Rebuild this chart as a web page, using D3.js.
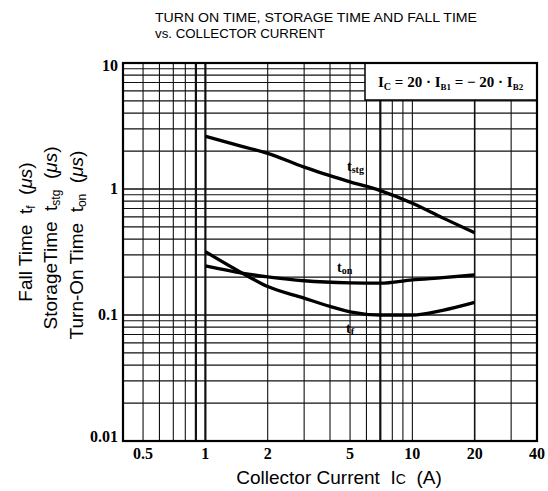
<!DOCTYPE html>
<html><head><meta charset="utf-8">
<script src="https://cdn.jsdelivr.net/npm/d3@7"></script>
<style>
html,body{margin:0;padding:0;background:#fff;}
svg{display:block;}
.tick{font-family:"Liberation Serif","DejaVu Serif",serif;font-weight:bold;font-size:16px;fill:#000;}
.lab{font-family:"Liberation Serif","DejaVu Serif",serif;font-weight:bold;fill:#000;}
.ax{font-family:"Liberation Sans",Arial,sans-serif;font-size:19px;fill:#000;}
.title{font-family:"Liberation Sans",Arial,sans-serif;font-size:13px;fill:#000;}
</style></head>
<body>
<svg id="c" width="548" height="491"></svg>
<script>
// ---- data ----
const titleLines = ["TURN ON TIME, STORAGE TIME AND FALL TIME", "vs. COLLECTOR CURRENT"];
const xTicks = [0.5, 1, 2, 5, 10, 20, 40];
const xTickLabels = ["0.5", "1", "2", "5", "10", "20", "40"];
const yTicks = [0.01, 0.1, 1, 10];
const yTickLabels = ["0.01", "0.1", "1", "10"];
const xGrid = [0.5, 0.6, 0.7, 0.8, 0.9, 1, 2, 3, 4, 5, 6, 7, 8, 9, 10, 20, 30];
const yGrid = [0.02, 0.03, 0.04, 0.05, 0.06, 0.07, 0.08, 0.09, 0.1, 0.2, 0.3, 0.4, 0.5, 0.6, 0.7, 0.8, 0.9, 1, 2, 3, 4, 5, 6, 7, 8, 9];
const tstgI = [1, 1.5, 2, 3, 5, 7, 10, 14, 20];
const tstg  = [2.62, 2.18, 1.92, 1.49, 1.14, 0.97, 0.77, 0.59, 0.45];
const tonI  = [1, 1.5, 2, 3, 5, 7, 10, 14, 20];
const ton   = [0.245, 0.215, 0.201, 0.187, 0.18, 0.179, 0.19, 0.198, 0.208];
const tfI   = [1, 1.5, 2, 3, 4, 5, 7, 10, 14, 20];
const tf    = [0.318, 0.216, 0.168, 0.136, 0.117, 0.106, 0.1, 0.1, 0.109, 0.126];

const NB = "\u00a0";
const svg = d3.select("#c");
const L = 123, R = 537, T = 63, B = 441;
const x = d3.scaleLog().domain([0.4, 40]).range([L, R]);
const y = d3.scaleLog().domain([0.01, 10]).range([B, T]);

// title
svg.selectAll("text.title").data(titleLines).join("text")
  .attr("class", "title")
  .attr("x", 155).attr("y", (d, i) => 22 + i * 16)
  .attr("textLength", (d, i) => i === 0 ? 322 : 170)
  .attr("lengthAdjust", "spacingAndGlyphs")
  .text(d => d);

// grid
const thickX = new Set([0.9, 1, 7]);
svg.append("g").selectAll("line").data(xGrid).join("line")
  .attr("x1", d => x(d)).attr("x2", d => x(d))
  .attr("y1", T).attr("y2", B)
  .attr("stroke", "#111")
  .attr("stroke-width", d => thickX.has(d) ? 2.2 : (d === 20 ? 1.6 : 1.1));
svg.append("g").selectAll("line").data(yGrid).join("line")
  .attr("x1", L).attr("x2", R)
  .attr("y1", d => y(d)).attr("y2", d => y(d))
  .attr("stroke", "#111")
  .attr("stroke-width", d => (d === 0.1 || d === 1) ? 1.6 : 1.2);

// legend box
const lg = svg.append("g");
lg.append("rect").attr("x", 365).attr("y", T).attr("width", R - 365).attr("height", 37)
  .attr("fill", "#fff").attr("stroke", "#000").attr("stroke-width", 1.5);
const lt = lg.append("text").attr("class", "lab").attr("x", 378).attr("y", 87).attr("font-size", 15);
lt.append("tspan").text("I");
lt.append("tspan").attr("font-size", 10).attr("dy", 3).text("C");
lt.append("tspan").attr("dy", -3).text(NB + "=" + NB + "20" + NB + "·" + NB + "I");
lt.append("tspan").attr("font-size", 9).attr("dy", 3).text("B1");
lt.append("tspan").attr("dy", -3).text(NB + "=" + NB + "−" + NB + "20" + NB + "·" + NB + "I");
lt.append("tspan").attr("font-size", 9).attr("dy", 3).text("B2");

// frame
svg.append("rect").attr("x", L).attr("y", T).attr("width", R - L).attr("height", B - T)
  .attr("fill", "none").attr("stroke", "#000").attr("stroke-width", 2.2);

// curves
const line = d3.line().x(d => x(d[0])).y(d => y(d[1])).curve(d3.curveMonotoneX);
[[tstgI, tstg], [tonI, ton], [tfI, tf]].forEach(([xs, ys]) => {
  svg.append("path").datum(xs.map((v, i) => [v, ys[i]]))
    .attr("d", line).attr("fill", "none").attr("stroke", "#000")
    .attr("stroke-width", 3.3).attr("stroke-linejoin", "round");
});

// curve labels
function curveLabel(px, py, sub) {
  const t = svg.append("text").attr("class", "lab").attr("x", px).attr("y", py).attr("font-size", 14);
  t.append("tspan").text("t");
  t.append("tspan").attr("font-size", 10).attr("dy", 2).text(sub);
}
const lbl = [[tstgI, tstg, "stg", -3, -11], [tonI, ton, "on", -13, -11], [tfI, tf, "f", -4, 21]];
lbl.forEach(([xs, ys, s, dx, dy]) => {
  const i = xs.indexOf(5);
  curveLabel(x(5) + dx, y(ys[i]) + dy, s);
});

// tick labels
svg.selectAll("text.xt").data(xTicks).join("text")
  .attr("class", "tick xt").attr("text-anchor", "middle")
  .attr("x", d => x(d)).attr("y", 459)
  .text((d, i) => xTickLabels[i]);
svg.selectAll("text.yt").data(yTicks).join("text")
  .attr("class", "tick yt").attr("text-anchor", "end")
  .attr("x", 118).attr("y", d => y(d) + 5 + (d === 10 ? 3 : 0) - (d === 0.01 ? 4 : 0))
  .text((d, i) => yTickLabels[i]);

// x axis label
const xl = svg.append("text").attr("class", "ax").attr("text-anchor", "middle")
  .attr("x", 339).attr("y", 484).attr("font-size", 20);
xl.append("tspan").text("Collector Current" + NB + NB + "I");
xl.append("tspan").attr("font-size", 14).text("C");
xl.append("tspan").text(NB + NB + "(A)");

// y axis label (3 lines, rotated)
const yl = [
  {cx: 32, cy: 232, main: "Fall Time" + NB + NB + "t", sub: "f"},
  {cx: 57, cy: 238, main: "StorageTime" + NB + NB + "t", sub: "stg"},
  {cx: 83, cy: 245, main: "Turn-On Time" + NB + NB + "t", sub: "on"}
];
yl.forEach(o => {
  const t = svg.append("text").attr("class", "ax").attr("text-anchor", "middle")
    .attr("transform", `translate(${o.cx},${o.cy}) rotate(-90)`);
  t.append("tspan").text(o.main);
  t.append("tspan").attr("font-size", 12).attr("dy", 3).text(o.sub);
  t.append("tspan").attr("dy", -3).text(NB + NB + "(");
  t.append("tspan").attr("font-style", "italic").text("μs");
  t.append("tspan").text(")");
});
</script>
</body></html>
